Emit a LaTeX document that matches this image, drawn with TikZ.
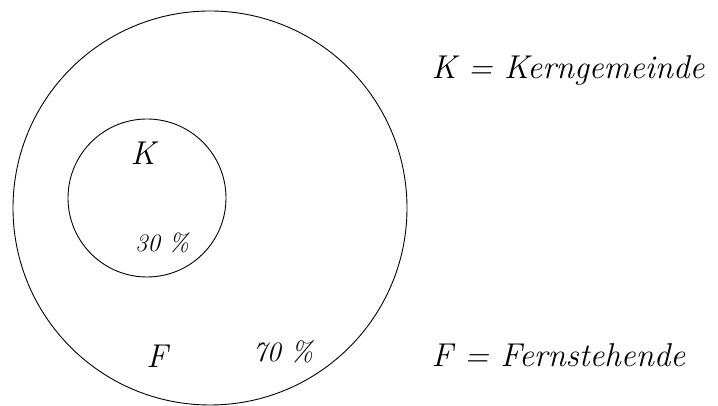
\documentclass[tikz,border=0pt]{standalone}
\begin{document}
\begin{tikzpicture}[x=1pt, y=1pt]
        \tikzset{every node/.style = {font=\itshape\fontsize{33}{38}\selectfont}}
        \tikzset{ring/.style = {shape=circle, draw, line width=0.9pt, inner sep=0pt}}

        \useasboundingbox (0, 0) rectangle (718, 406);

        \node[ring, minimum size=394pt] (outer) at (210, 198) {};
        \node[ring, minimum size=158pt] (inner) at (147, 208) {};

        \node (k) at (143, 253) {K};
        \node[font=\itshape\fontsize{25}{30}\selectfont] (kp) at (162, 163) {30 \%};

        \node (f) at (157, 50) {F};
        \node[font=\itshape\fontsize{28}{32}\selectfont] (fp) at (283, 54) {70 \%};

        \node[anchor=west] (klegend) at (428, 336) {K = Kerngemeinde};
        \node[anchor=west] (flegend) at (428, 51) {F = Fernstehende};

    \end{tikzpicture}
\end{document}
